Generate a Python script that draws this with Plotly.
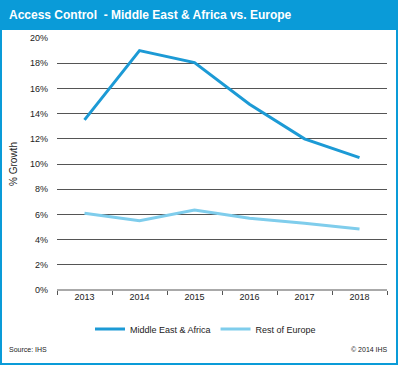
import plotly.graph_objects as go

years = ["2013", "2014", "2015", "2016", "2017", "2018"]
mea = [13.5, 19.0, 18.05, 14.75, 12.0, 10.5]
europe = [6.1, 5.5, 6.35, 5.7, 5.3, 4.85]
y_ticks = [0, 2, 4, 6, 8, 10, 12, 14, 16, 18, 20]
y_tick_labels = [f"{v}%" for v in y_ticks]

W, H = 398, 365
L, R, T, B = 57, 387, 38, 290

def px(x):
    return (x - L) / (R - L)

def py(y):
    return (B - y) / (B - T)

fig = go.Figure()
fig.add_trace(go.Scatter(x=years, y=mea, mode="lines", name="Middle East & Africa",
                         line=dict(color="#1C9AD5", width=3)))
fig.add_trace(go.Scatter(x=years, y=europe, mode="lines", name="Rest of Europe",
                         line=dict(color="#7FCDEC", width=3)))

fig.update_layout(
    width=W, height=H,
    margin=dict(l=L, r=W - R, t=T, b=H - B),
    paper_bgcolor="white", plot_bgcolor="white",
    font=dict(family="Liberation Sans, Arial", size=9, color="#222222"),
    showlegend=True,
    legend=dict(orientation="h", x=px(90), xanchor="left", y=py(329), yanchor="middle",
                font=dict(size=9), itemwidth=30, traceorder="normal"),
    xaxis=dict(type="category", range=[-0.5, 5.5], showgrid=False, showline=False,
               ticks="outside", tickson="boundaries", ticklen=4, tickcolor="#555555",
               tickfont=dict(size=9), zeroline=False),
    yaxis=dict(range=[0, 20], tickvals=y_ticks, ticktext=y_tick_labels,
               showgrid=True, gridcolor="#555555", gridwidth=1, showline=False,
               zeroline=False, ticks="", ticklabelstandoff=8,
               title=dict(text="% Growth", font=dict(size=10), standoff=10)),
    shapes=[
        dict(type="line", xref="paper", yref="paper", x0=0, x1=1, y0=0, y1=0,
             line=dict(color="#555555", width=1)),
        dict(type="rect", xref="paper", yref="paper", x0=px(0), x1=px(W), y0=py(30), y1=py(0),
             fillcolor="#0A9BD8", line=dict(width=0), layer="below"),
        dict(type="rect", xref="paper", yref="paper", x0=px(1), x1=px(W - 1), y0=py(H - 1), y1=py(1),
             line=dict(color="#0A9BD8", width=2), fillcolor="rgba(0,0,0,0)"),
    ],
    annotations=[
        dict(text="<b>Access Control  - Middle East & Africa vs. Europe</b>", xref="paper", yref="paper",
             x=px(7), y=py(15), xanchor="left", yanchor="middle", showarrow=False,
             font=dict(size=12, color="white", family="Liberation Sans, Arial")),
        dict(text="Source: IHS", xref="paper", yref="paper", x=px(7), y=py(349),
             xanchor="left", yanchor="middle", showarrow=False, font=dict(size=7)),
        dict(text="© 2014 IHS", xref="paper", yref="paper", x=px(390), y=py(349),
             xanchor="right", yanchor="middle", showarrow=False, font=dict(size=7)),
    ],
)

fig.write_html("out.html", config={"displayModeBar": False},
               post_script="document.body.style.margin='0';")
